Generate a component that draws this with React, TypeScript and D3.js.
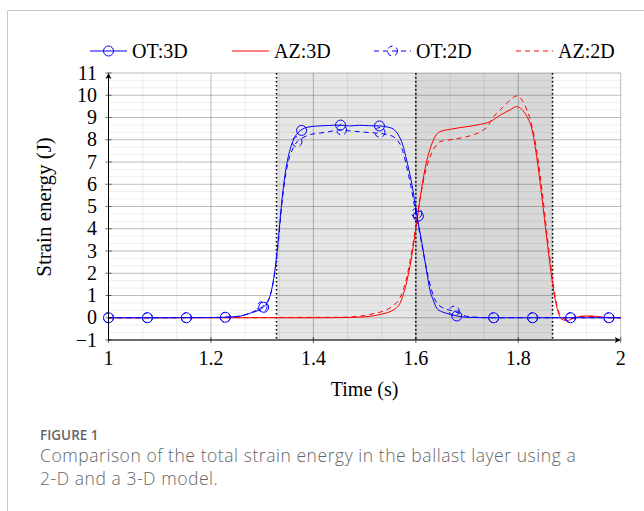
import React from 'react'
import * as d3 from 'd3'

// time (s), strain energy (J)
const ot3dTime = [1.0, 1.1, 1.2, 1.25, 1.276, 1.302, 1.315, 1.325, 1.332, 1.338, 1.345, 1.351, 1.361, 1.374, 1.39, 1.41, 1.43, 1.452, 1.47, 1.49, 1.51, 1.53, 1.545, 1.556, 1.566, 1.574, 1.582, 1.592, 1.602, 1.612, 1.621, 1.628, 1.634, 1.641, 1.65, 1.66, 1.68, 1.7, 1.75, 2.0]
const ot3dValue = [0, 0, 0.01, 0.05, 0.2, 0.47, 0.95, 2.15, 3.64, 5.14, 6.49, 7.24, 7.99, 8.4, 8.57, 8.62, 8.64, 8.66, 8.62, 8.65, 8.63, 8.62, 8.57, 8.48, 8.21, 7.8, 7.09, 6.04, 4.62, 3.35, 2.1, 1.2, 0.8, 0.42, 0.28, 0.2, 0.08, 0.02, 0, 0]

const ot2dTime = [1.0, 1.2, 1.25, 1.28, 1.3, 1.315, 1.325, 1.332, 1.338, 1.345, 1.352, 1.36, 1.368, 1.38, 1.395, 1.41, 1.43, 1.45, 1.47, 1.49, 1.51, 1.53, 1.545, 1.556, 1.565, 1.573, 1.58, 1.59, 1.6, 1.61, 1.62, 1.63, 1.64, 1.655, 1.67, 1.685, 1.7, 1.75, 2.0]
const ot2dValue = [0, 0.01, 0.06, 0.25, 0.5, 0.95, 2.1, 3.5, 5.0, 6.3, 7.1, 7.6, 7.91, 8.1, 8.24, 8.29, 8.36, 8.44, 8.4, 8.36, 8.32, 8.29, 8.22, 8.14, 7.95, 7.6, 7.0, 5.95, 4.7, 3.5, 2.3, 1.3, 0.7, 0.42, 0.32, 0.2, 0.06, 0, 0]

const az3dTime = [1.0, 1.4, 1.48, 1.52, 1.54, 1.556, 1.569, 1.58, 1.59, 1.6, 1.608, 1.618, 1.628, 1.638, 1.647, 1.667, 1.7, 1.726, 1.745, 1.765, 1.784, 1.797, 1.807, 1.817, 1.827, 1.836, 1.846, 1.856, 1.866, 1.875, 1.885, 1.895, 1.908, 1.927, 1.945, 1.966, 2.0]
const az3dValue = [0, 0, 0.02, 0.1, 0.2, 0.35, 0.65, 1.4, 2.5, 4.0, 5.3, 6.7, 7.6, 8.15, 8.36, 8.47, 8.59, 8.69, 8.81, 9.11, 9.34, 9.49, 9.36, 9.04, 8.44, 7.24, 5.44, 3.49, 1.7, 0.5, -0.07, -0.13, -0.02, 0.08, 0.08, 0.02, 0]

const az2dTime = [1.0, 1.45, 1.5, 1.52, 1.537, 1.556, 1.569, 1.58, 1.59, 1.6, 1.608, 1.618, 1.628, 1.638, 1.647, 1.673, 1.7, 1.726, 1.74, 1.752, 1.765, 1.778, 1.79, 1.797, 1.807, 1.817, 1.827, 1.836, 1.846, 1.856, 1.866, 1.876, 1.886, 1.895, 1.91, 1.93, 1.95, 1.97, 2.0]
const az2dValue = [0, 0.02, 0.1, 0.2, 0.3, 0.55, 0.9, 1.6, 2.7, 4.1, 5.3, 6.49, 7.24, 7.69, 7.91, 8.02, 8.14, 8.36, 8.6, 9.04, 9.35, 9.64, 9.9, 9.97, 9.79, 9.34, 8.6, 7.5, 5.8, 3.8, 1.9, 0.5, 0, -0.08, 0, 0.06, 0.05, 0.01, 0]

// circle marks
const ot3dMarkTime = [1.0, 1.076, 1.152, 1.228, 1.303, 1.377, 1.453, 1.529, 1.605, 1.68, 1.752, 1.828, 1.902, 1.977]
const ot3dMarkValue = [0, 0, 0, 0.02, 0.47, 8.42, 8.66, 8.62, 4.57, 0.08, 0, 0, 0, 0]
const ot2dMarkTime = [1.0, 1.076, 1.152, 1.228, 1.3, 1.368, 1.455, 1.53, 1.602, 1.675, 1.752, 1.828, 1.902, 1.977]
const ot2dMarkValue = [0, 0, 0, 0.02, 0.5, 7.91, 8.44, 8.33, 4.7, 0.3, 0, 0, 0, 0]

// shaded phases and dotted separators
const phaseBounds = [1.328, 1.6, 1.867]
const phaseFills = ['#e6e6e6', '#d8d8d8']

const xTicks = [1, 1.2, 1.4, 1.6, 1.8, 2]
const yTicks = [-1, 0, 1, 2, 3, 4, 5, 6, 7, 8, 9, 10, 11]

const legendItems = [
  { label: 'OT:3D', color: '#0000ff', dashed: false, mark: true },
  { label: 'AZ:3D', color: '#ff0000', dashed: false, mark: false },
  { label: 'OT:2D', color: '#0000ff', dashed: true, mark: true },
  { label: 'AZ:2D', color: '#ff0000', dashed: true, mark: false },
]

const W = 644
const H = 511
const serif = '"Liberation Serif", "DejaVu Serif", serif'
const dash = '5,4'

export default function App() {
  const x = d3.scaleLinear().domain([1, 2]).range([108.5, 620.7])
  const y = d3.scaleLinear().domain([-1, 11]).range([340, 73])
  const [x0, x1] = x.range()
  const [yBot, yTop] = y.range()

  const line = d3.line<[number, number]>()
    .x(d => x(d[0]))
    .y(d => y(d[1]))
    .curve(d3.curveMonotoneX)
  const zip = (a: number[], b: number[]) => a.map((t, i) => [t, b[i]] as [number, number])

  const minorX = d3.range(0, 16).map(i => 1 + i / 15)
  const minorY = d3.range(0, 37).map(i => -1 + i / 3)

  return (
    <svg width={W} height={H} style={{ position: 'absolute', left: 0, top: 0 }}>
      <rect width={W} height={H} fill="#fff" />
      <path d={`M7.5,${H} V10.5 H${W}`} fill="none" stroke="#c8c8c8" strokeWidth={1} />

      {/* phase shading */}
      {phaseFills.map((f, i) => (
        <rect key={i} x={x(phaseBounds[i])} y={yTop} width={x(phaseBounds[i + 1]) - x(phaseBounds[i])}
          height={yBot - yTop} fill={f} />
      ))}

      {/* grid */}
      {minorX.map((v, i) => (
        <line key={'mx' + i} x1={x(v)} x2={x(v)} y1={yTop} y2={yBot} stroke="#000" strokeOpacity={0.07} />
      ))}
      {minorY.map((v, i) => (
        <line key={'my' + i} x1={x0} x2={x1} y1={y(v)} y2={y(v)} stroke="#000" strokeOpacity={0.07} />
      ))}
      {xTicks.map(v => (
        <line key={'gx' + v} x1={x(v)} x2={x(v)} y1={yTop} y2={yBot} stroke="#000" strokeOpacity={0.2} />
      ))}
      {yTicks.map(v => (
        <line key={'gy' + v} x1={x0} x2={x1} y1={y(v)} y2={y(v)} stroke="#000" strokeOpacity={0.2} />
      ))}

      {phaseBounds.map(b => (
        <line key={'pb' + b} x1={x(b)} x2={x(b)} y1={yTop} y2={yBot} stroke="#000" strokeWidth={1.6}
          strokeDasharray="1.4,2.6" />
      ))}

      {/* curves */}
      <path d={line(zip(az2dTime, az2dValue)) || ''} fill="none" stroke="#ff0000" strokeWidth={1} strokeDasharray={dash} />
      <path d={line(zip(az3dTime, az3dValue)) || ''} fill="none" stroke="#ff0000" strokeWidth={1} />
      <path d={line(zip(ot2dTime, ot2dValue)) || ''} fill="none" stroke="#0000ff" strokeWidth={1} strokeDasharray={dash} />
      <path d={line(zip(ot3dTime, ot3dValue)) || ''} fill="none" stroke="#0000ff" strokeWidth={1} />
      {ot2dMarkTime.map((t, i) => (
        <circle key={'m2' + i} cx={x(t)} cy={y(ot2dMarkValue[i])} r={5} fill="none" stroke="#0000ff"
          strokeDasharray={dash} />
      ))}
      {ot3dMarkTime.map((t, i) => (
        <circle key={'m3' + i} cx={x(t)} cy={y(ot3dMarkValue[i])} r={5} fill="none" stroke="#0000ff" />
      ))}

      {/* axes */}
      <line x1={x0} x2={x1 - 1} y1={yBot} y2={yBot} stroke="#000" />
      <path d={`M${x1 - 6},${yBot - 3} L${x1},${yBot} L${x1 - 6},${yBot + 3} L${x1 - 4.5},${yBot} Z`} fill="#000" />
      <line x1={x0} x2={x0} y1={yBot} y2={yTop + 1} stroke="#000" />
      <path d={`M${x0 - 3},${yTop + 6} L${x0},${yTop} L${x0 + 3},${yTop + 6} L${x0},${yTop + 4.5} Z`} fill="#000" />
      {xTicks.map(v => (
        <line key={'tx' + v} x1={x(v)} x2={x(v)} y1={yBot - 3} y2={yBot + 3} stroke="#000" strokeWidth={0.6} />
      ))}
      {yTicks.map(v => (
        <line key={'ty' + v} x1={x0 - 3} x2={x0 + 3} y1={y(v)} y2={y(v)} stroke="#000" strokeWidth={0.6} />
      ))}

      <g fontFamily={serif} fontSize={20} fill="#000">
        {xTicks.map(v => (
          <text key={'lx' + v} x={x(v)} y={365} textAnchor="middle">{d3.format('')(v)}</text>
        ))}
        {yTicks.map(v => (
          <text key={'ly' + v} x={97} y={y(v) + 6.5} textAnchor="end">{v < 0 ? '\u2212' + Math.abs(v) : v}</text>
        ))}
        <text x={(x0 + x1) / 2} y={396} textAnchor="middle">Time (s)</text>
        <text transform={`translate(51,207) rotate(-90)`} textAnchor="middle" fontSize={21}>Strain energy (J)</text>

        {legendItems.map((it, i) => {
          const lx = 90 + i * 142
          return (
            <g key={it.label}>
              <line x1={lx} x2={lx + 37} y1={51} y2={51} stroke={it.color} strokeDasharray={it.dashed ? dash : undefined} />
              {it.mark && (
                <circle cx={lx + 18.5} cy={51} r={5} fill="none" stroke={it.color}
                  strokeDasharray={it.dashed ? dash : undefined} />
              )}
              <text x={lx + 42} y={57.5}>{it.label}</text>
            </g>
          )
        })}
      </g>

      <g fontFamily='"Open Sans", "Noto Sans", sans-serif' fill="#666">
        <text x={40} y={440} fontSize={13.5} fontWeight={600}>FIGURE 1</text>
        <text x={40} y={462} fontSize={17.5} fontWeight={300} letterSpacing={0.55}>Comparison of the total strain energy in the ballast layer using a</text>
        <text x={40} y={485} fontSize={17.5} fontWeight={300} letterSpacing={0.55}>2-D and a 3-D model.</text>
      </g>
    </svg>
  )
}
